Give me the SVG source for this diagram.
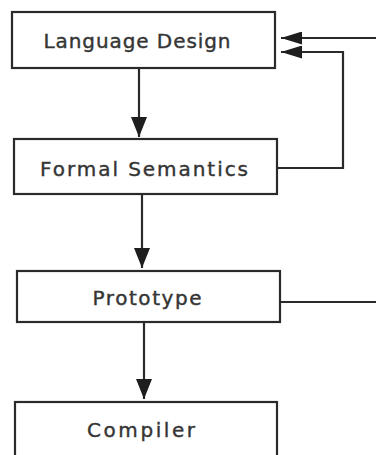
<svg xmlns="http://www.w3.org/2000/svg" width="376" height="455" viewBox="0 0 376 455">
  <style>
    .box { fill: #ffffff; stroke: #2a2a2a; stroke-width: 2.2; }
    .label { font-family: "DejaVu Sans", "Liberation Sans", Arial, sans-serif; font-size: 20px; fill: #353535; stroke: #353535; stroke-width: 0.4; text-anchor: middle; }
    .wire { fill: none; stroke: #2a2a2a; stroke-width: 2.2; }
  </style>
  <defs>
    <marker id="head" viewBox="0 0 20 16" refX="20" refY="8" markerWidth="20" markerHeight="16" markerUnits="userSpaceOnUse" orient="auto">
      <path d="M0,0 L20,8 L0,16 Z" fill="#1e1e1e"/>
    </marker>
    <marker id="head-side" viewBox="0 0 21 13" refX="21" refY="6.5" markerWidth="21" markerHeight="13" markerUnits="userSpaceOnUse" orient="auto">
      <path d="M0,0 L21,6.5 L0,13 Z" fill="#1e1e1e"/>
    </marker>
  </defs>
  <rect width="376" height="455" fill="#ffffff"/>

  <g id="connectors">
    <!-- Language Design -> Formal Semantics -->
    <line class="wire" x1="139" y1="68" x2="139" y2="137" marker-end="url(#head)"/>
    <!-- Formal Semantics -> Prototype -->
    <line class="wire" x1="142" y1="194" x2="142" y2="268" marker-end="url(#head)"/>
    <!-- Prototype -> Compiler -->
    <line class="wire" x1="144" y1="322" x2="144" y2="399" marker-end="url(#head)"/>
    <!-- feedback from Formal Semantics back to Language Design -->
    <polyline class="wire" points="277,168 343,168 343,52 281,52" marker-end="url(#head-side)"/>
    <!-- feedback from Prototype (runs off the right edge) -->
    <line class="wire" x1="280" y1="302" x2="376" y2="302"/>
    <!-- incoming feedback into Language Design -->
    <line class="wire" x1="376" y1="38" x2="281" y2="38" marker-end="url(#head-side)"/>
  </g>

  <g id="language-design">
    <rect class="box" x="12" y="12" width="263" height="56"/>
    <text class="label" x="137" y="48" textLength="187" lengthAdjust="spacing">Language Design</text>
  </g>
  <g id="formal-semantics">
    <rect class="box" x="14" y="139" width="263" height="55"/>
    <text class="label" x="144" y="176" textLength="208" lengthAdjust="spacing">Formal Semantics</text>
  </g>
  <g id="prototype">
    <rect class="box" x="17" y="271" width="263" height="51"/>
    <text class="label" x="147" y="305" textLength="109" lengthAdjust="spacing">Prototype</text>
  </g>
  <g id="compiler">
    <rect class="box" x="15" y="402" width="262" height="60"/>
    <text class="label" x="141" y="437" textLength="108" lengthAdjust="spacing">Compiler</text>
  </g>
</svg>
